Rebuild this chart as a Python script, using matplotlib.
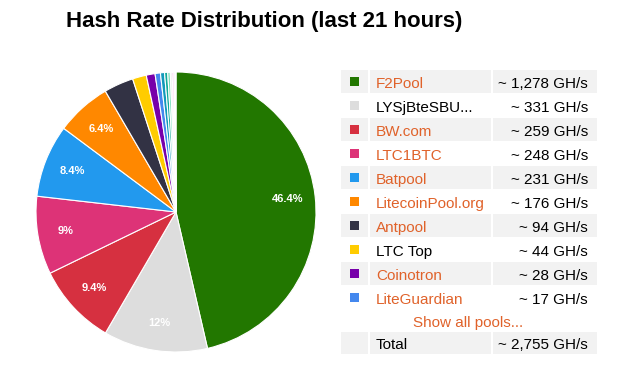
import matplotlib
matplotlib.use('Agg')
import matplotlib.pyplot as plt
from matplotlib.patches import Rectangle

plt.rcParams['font.family'] = ['Liberation Sans', 'DejaVu Sans']

# pools shown in the table (GH/s)
pools = ['F2Pool', 'LYSjBteSBU...', 'BW.com', 'LTC1BTC', 'Batpool',
         'LitecoinPool.org', 'Antpool', 'LTC Top', 'Coinotron', 'LiteGuardian']
rates = [1278, 331, 259, 248, 231, 176, 94, 44, 28, 17]
linked = [True, False, True, True, True, True, True, False, True, True]
colors = ['#227700', '#dddddd', '#d63040', '#dd3377', '#2299ee',
          '#ff8800', '#323244', '#ffcc00', '#7700aa', '#4488ee']

# the small pools that only show up as slivers in the pie
small_rates = [13, 10, 8, 6, 5, 4, 3]
small_colors = ['#1199bb', '#11aa99', '#77ddbb', '#eeeeee', '#ff66cc', '#cc99ee', '#dddddd']

total = 2755
title = 'Hash Rate Distribution (last 21 hours)'

orange_txt = '#e0622a'
shade = '#f2f2f2'

W, H = 620, 376
fig = plt.figure(figsize=(W / 100, H / 100), dpi=100)

# pie: centre (176, 212) px, radius 140 px
cx, cy, r = 176, 212, 140
ax = fig.add_axes([(cx - r) / W, (H - cy - r) / H, 2 * r / W, 2 * r / H])
values = rates + small_rates
wedges, _ = ax.pie(values, colors=colors + small_colors, startangle=90,
                   counterclock=False, radius=1,
                   wedgeprops=dict(edgecolor='white', linewidth=0.8))
ax.set_xlim(-1, 1)
ax.set_ylim(-1, 1)

import math
ang = 90.0
for v in values:
    pct = v / total * 100
    span = v / total * 360
    mid = math.radians(ang - span / 2)
    ang -= span
    if pct < 5:
        continue
    lab = f'{pct:.1f}'
    if lab.endswith('.0'):
        lab = lab[:-2]
    ax.text(0.8 * math.cos(mid), 0.8 * math.sin(mid), lab + '%',
            ha='center', va='center', color='white', fontsize=8, fontweight='bold')

# overlay in pixel coordinates for title and table
ov = fig.add_axes([0, 0, 1, 1])
ov.set_xlim(0, W)
ov.set_ylim(H, 0)
ov.axis('off')

ov.text(264, 27, title, ha='center', va='baseline', fontsize=16, fontweight='bold')

top0 = 70
pitch = 24
for i, (name, rate) in enumerate(zip(pools, rates)):
    top = top0 + i * pitch
    if i % 2 == 0:
        for x0, x1 in [(341, 368), (370, 491), (493, 597)]:
            ov.add_patch(Rectangle((x0, top), x1 - x0, 23, color=shade, lw=0))
    ov.add_patch(Rectangle((350, top + 7), 9, 9, color=colors[i], lw=0))
    ov.text(376, top + 18, name, fontsize=11, va='baseline',
            color=orange_txt if linked[i] else 'black')
    ov.text(588, top + 18, f'~ {rate:,} GH/s', fontsize=11, va='baseline', ha='right')

ov.text(468, 327, 'Show all pools...', fontsize=11, va='baseline', ha='center', color=orange_txt)

top = 332
for x0, x1 in [(341, 368), (370, 491), (493, 597)]:
    ov.add_patch(Rectangle((x0, top), x1 - x0, 22, color=shade, lw=0))
ov.text(376, top + 17, 'Total', fontsize=11, va='baseline')
ov.text(588, top + 17, f'~ {total:,} GH/s', fontsize=11, va='baseline', ha='right')

fig.savefig('out.png', dpi=100)
